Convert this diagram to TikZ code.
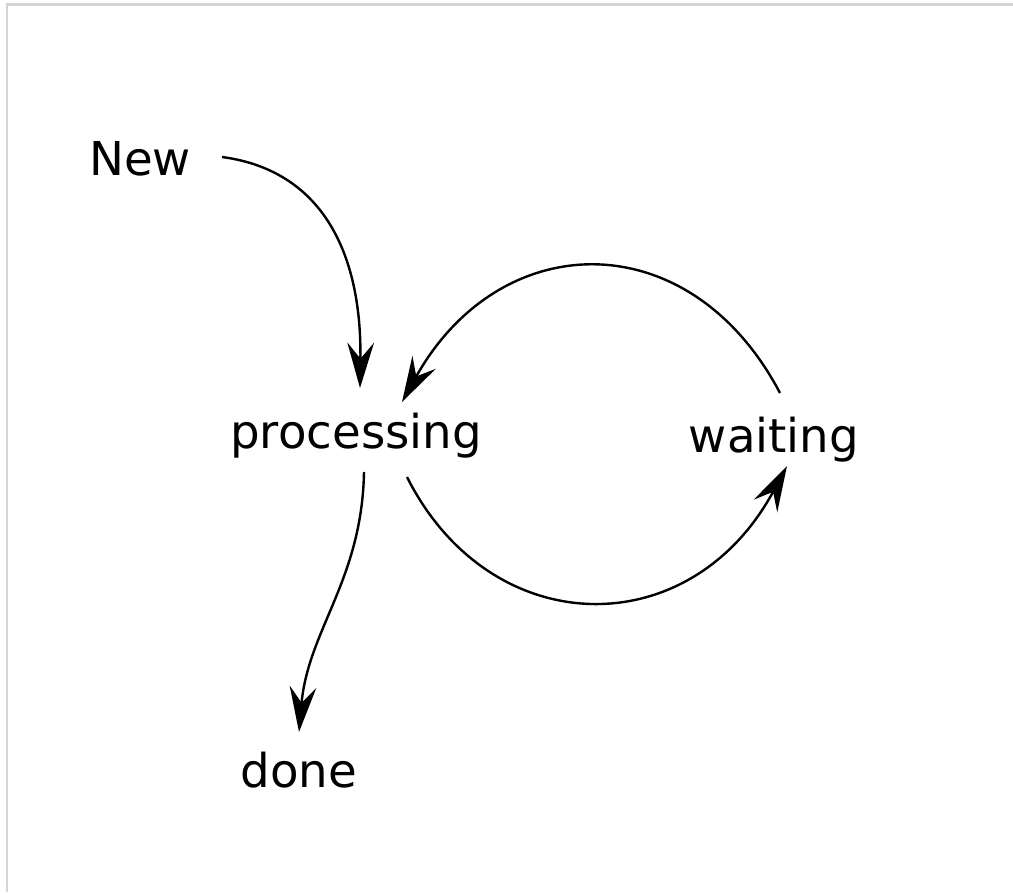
\documentclass[tikz,border=0pt]{standalone}
\usepackage{fontspec}
\setmainfont{DejaVu Sans}
\usetikzlibrary{arrows.meta}
\begin{document}
\begin{tikzpicture}[x=0.75pt,y=-0.75pt,
  lbl/.style={inner sep=0pt,anchor=base,font=\fontsize{35}{42}\selectfont},
  conn/.style={line width=1.8pt,-{Stealth[length=34pt,width=20pt,inset=12pt]}},
  frame/.style={line width=1.6pt,draw=black!17}]
\useasboundingbox (0,0) rectangle (1013,892);
\draw[frame] (7,892) -- (7,4.5) -- (1013,4.5);
\node[lbl] (new) at (140,175) {New};
\node[lbl] (proc) at (356,448) {processing};
\node[lbl] (wait) at (774,452) {waiting};
\node[lbl] (done) at (299,787) {done};
\draw[conn] ([shift={(82,-18)}]new.base) .. controls (320,170) and (362,250) .. ([shift={(4,-60)}]proc.base);
\draw[conn] ([shift={(6,-59)}]wait.base) .. controls (690,222) and (500,226) .. ([shift={(46,-46)}]proc.base);
\draw[conn] ([shift={(51,29)}]proc.base) .. controls (490,642) and (690,646) .. ([shift={(13,14)}]wait.base);
\draw[conn] ([shift={(8,24)}]proc.base) .. controls (362,580) and (308,630) .. ([shift={(0,-55)}]done.base);
\end{tikzpicture}
\end{document}
